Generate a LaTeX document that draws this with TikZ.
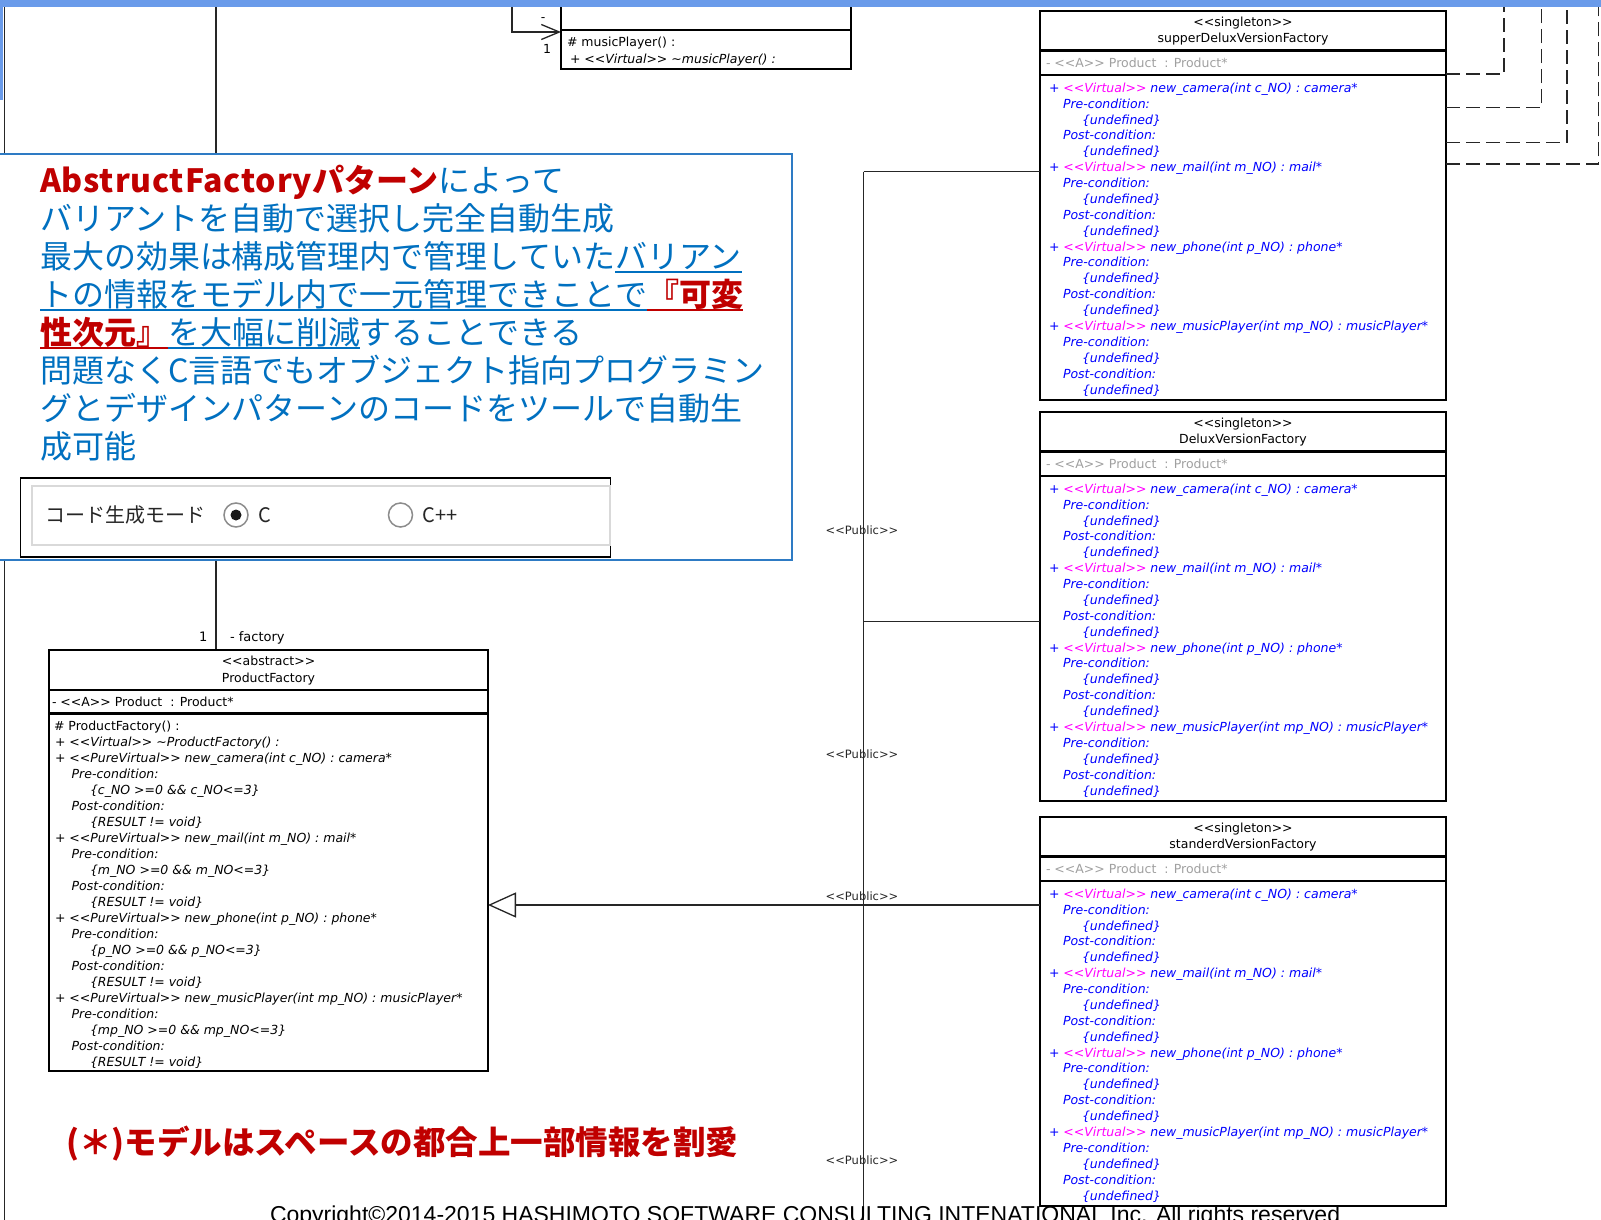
\documentclass[tikz,border=0pt]{standalone}
\usepackage{fontspec}
\usetikzlibrary{arrows.meta,calc}
\newfontfamily\jp{Noto Sans CJK JP}
\newfontfamily\uml{DejaVu Sans}[Ligatures=TeXOff]
\newfontfamily\cpy{Liberation Sans}
\definecolor{jpblue}{HTML}{0070C0}
\definecolor{jpred}{HTML}{C00000}
\definecolor{umlblue}{HTML}{0000FF}
\definecolor{umlmag}{HTML}{FF00FF}
\definecolor{umlgrey}{HTML}{A0A0A0}
\definecolor{tbblue}{HTML}{2E7BC4}
\definecolor{bandblue}{HTML}{6A9BEA}
\newsavebox\ulbox
\newcommand\ulx[1]{\sbox\ulbox{#1}\rlap{\rule[-5pt]{\wd\ulbox}{2pt}}\usebox\ulbox}
\tikzset{
 umlbox/.style={draw=black, line width=2.8pt, fill=white, anchor=north west, inner sep=0pt, outer sep=0pt},
 divider/.style={draw=black, line width=2.2pt},
 conn/.style={draw=black!85, line width=1.3pt},
 dline/.style={conn, dash pattern=on 14pt off 6pt},
 tl/.style={anchor=base west, inner sep=0pt, outer sep=0pt},
 tc/.style={anchor=base, inner sep=0pt, outer sep=0pt},
 uf/.style={font=\uml\fontsize{12.5}{14}\selectfont},
 ufi/.style={font=\uml\itshape\fontsize{12.5}{14}\selectfont},
 opl/.style={tl, ufi, text=umlblue},
 jpl/.style={tl, font=\jp\fontsize{32}{38}\selectfont, text=jpblue},
 radiotext/.style={tl, font=\jp\fontsize{20}{24}\selectfont, text=black!85},
 pubtext/.style={inner sep=0pt, font=\uml\fontsize{11.5}{13}\selectfont, text=black!85},
}
\newcommand\vops[3]{%
 \pgfmathsetmacro\yo{81.3+#2*79.4}%
 \node[opl] (#1-o#2) at ($(#1.north west)+(9,\yo)$) {+ \textcolor{umlmag}{<<Virtual>>} #3};
 \node[opl] (#1-o#2a) at ($(#1.north west)+(23,\yo+15.88)$) {Pre-condition:};
 \node[opl] (#1-o#2b) at ($(#1.north west)+(42,\yo+31.76)$) {\{undefined\}};
 \node[opl] (#1-o#2c) at ($(#1.north west)+(23,\yo+47.64)$) {Post-condition:};
 \node[opl] (#1-o#2d) at ($(#1.north west)+(42,\yo+63.52)$) {\{undefined\}};
}
\newcommand\sgbox[3]{%
 \node[umlbox, minimum width=406pt, minimum height=389pt] (#1) at (1040,#2) {};
 \draw[divider] ($(#1.north west)+(0,39.5)$) -- ($(#1.north east)+(0,39.5)$);
 \draw[divider] ($(#1.north west)+(0,64)$) -- ($(#1.north east)+(0,64)$);
 \node[tc, uf] (#1-st) at ($(#1.north)+(0,15.3)$) {<<singleton>>};
 \node[tc, uf] (#1-nm) at ($(#1.north)+(0,31.3)$) {#3};
 \node[tl, uf, text=umlgrey] (#1-at) at ($(#1.north west)+(6,56.3)$) {- <<A>> Product\ \ : Product*};
 \vops{#1}{0}{new\_camera(int c\_NO) : camera*}
 \vops{#1}{1}{new\_mail(int m\_NO) : mail*}
 \vops{#1}{2}{new\_phone(int p\_NO) : phone*}
 \vops{#1}{3}{new\_musicPlayer(int mp\_NO) : musicPlayer*}
}
\newcommand\pfl[4]{\node[tl,#3] (pf-l#1) at ($(pf.north west)+(#2,80.7+#1*16)$) {#4};}
\begin{document}
\begin{tikzpicture}[x=1pt,y=-1pt]
\useasboundingbox (0,0) rectangle (1601,1220);
\clip (0,0) rectangle (1601,1220);
\fill[white] (0,0) rectangle (1601,1220);

% ---- coordinates for free connector ends
\coordinate (lt) at (4.5,6);
\coordinate (lb) at (4.5,1226);
\coordinate (ftop) at (216,6);
\coordinate (mpsrc) at (512,6);
\coordinate (jt) at (863.5,171.5);
\coordinate (jb) at (863.5,1226);
\coordinate (jd) at (863.5,621.7);
\coordinate (js) at (863.5,905);
\coordinate (dv1) at (1504,6);
\coordinate (dv2) at (1541.5,6);
\coordinate (dv3) at (1567,6);
\coordinate (dv4) at (1598.5,6);

% ---- boxes
\node[umlbox, minimum width=290pt, minimum height=74pt] (mp) at (561,-5) {};
\node[umlbox, minimum width=439pt, minimum height=421pt] (pf) at (49,650) {};
\sgbox{sd}{11}{supperDeluxVersionFactory}
\sgbox{dl}{412}{DeluxVersionFactory}
\sgbox{st}{817}{standerdVersionFactory}

% ---- connectors
\draw[conn] (lt) -- (lb);
\draw[conn] (ftop) -- (ftop |- pf.north);
\draw[conn, -{Straight Barb[length=18pt,width=15pt]}] (mpsrc) |- ($(mp.north west)+(0,37)$);
\draw[conn] (jt) -- (jb);
\draw[conn] (jt) -- (jt -| sd.west);
\draw[conn] (jd) -- (jd -| dl.west);
\draw[conn, -{Triangle[open, length=28pt, width=25pt, fill=white]}] (js -| st.west) -- (js -| pf.east);
\draw[dline] ($(sd.north east)+(0,63)$) -| (dv1);
\draw[dline] ($(sd.north east)+(0,96.7)$) -| (dv2);
\draw[dline] ($(sd.north east)+(0,131.7)$) -| (dv3);
\draw[dline] ($(sd.north east)+(0,153)$) -| (dv4);

% ---- redraw boxes on top of lines
\node[umlbox, minimum width=290pt, minimum height=74pt] (mp2) at (561,-5) {};
\draw[divider] ($(mp2.north west)+(0,35)$) -- ($(mp2.north east)+(0,35)$);
\node[umlbox, minimum width=439pt, minimum height=421pt] (pf2) at (49,650) {};
\draw[divider] ($(pf.north west)+(0,40)$) -- ($(pf.north east)+(0,40)$);
\draw[divider] ($(pf.north west)+(0,63.5)$) -- ($(pf.north east)+(0,63.5)$);

% ---- musicPlayer box texts
\node[tl, uf] (mp-a) at ($(mp.north west)+(6,51.7)$) {\# musicPlayer() :};
\node[tl, ufi] (mp-b) at ($(mp.north west)+(9,69)$) {+ <<Virtual>> \textasciitilde musicPlayer() :};
\node[uf, inner sep=0pt] (mp-m) at (543,20) {-};
\node[uf, inner sep=0pt] (mp-1) at (547,49) {1};

% ---- ProductFactory texts
\node[tc, uf] (pf-st) at ($(pf.north)+(0,15.7)$) {<<abstract>>};
\node[tc, uf] (pf-nm) at ($(pf.north)+(0,32)$) {ProductFactory};
\node[tl, uf] (pf-at) at ($(pf.north west)+(3,56)$) {- <<A>> Product\ \ : Product*};
\pfl{0}{5}{uf}{\# ProductFactory() :}
\pfl{1}{6}{ufi}{+ <<Virtual>> \textasciitilde ProductFactory() :}
\pfl{2}{6}{ufi}{+ <<PureVirtual>> new\_camera(int c\_NO) : camera*}
\pfl{3}{22.7}{ufi}{Pre-condition:}
\pfl{4}{41}{ufi}{\{c\_NO >=0 \&\& c\_NO<=3\}}
\pfl{5}{22.7}{ufi}{Post-condition:}
\pfl{6}{41}{ufi}{\{RESULT != void\}}
\pfl{7}{6}{ufi}{+ <<PureVirtual>> new\_mail(int m\_NO) : mail*}
\pfl{8}{22.7}{ufi}{Pre-condition:}
\pfl{9}{41}{ufi}{\{m\_NO >=0 \&\& m\_NO<=3\}}
\pfl{10}{22.7}{ufi}{Post-condition:}
\pfl{11}{41}{ufi}{\{RESULT != void\}}
\pfl{12}{6}{ufi}{+ <<PureVirtual>> new\_phone(int p\_NO) : phone*}
\pfl{13}{22.7}{ufi}{Pre-condition:}
\pfl{14}{41}{ufi}{\{p\_NO >=0 \&\& p\_NO<=3\}}
\pfl{15}{22.7}{ufi}{Post-condition:}
\pfl{16}{41}{ufi}{\{RESULT != void\}}
\pfl{17}{6}{ufi}{+ <<PureVirtual>> new\_musicPlayer(int mp\_NO) : musicPlayer*}
\pfl{18}{22.7}{ufi}{Pre-condition:}
\pfl{19}{41}{ufi}{\{mp\_NO >=0 \&\& mp\_NO<=3\}}
\pfl{20}{22.7}{ufi}{Post-condition:}
\pfl{21}{41}{ufi}{\{RESULT != void\}}

% ---- association labels
\node[tl, font=\uml\fontsize{13}{15}\selectfont] (fa-1) at (199,641) {1};
\node[tl, font=\uml\fontsize{13}{15}\selectfont] (fa-n) at (230,641) {- factory};

% ---- Public labels
\node[pubtext] (pub1) at (862,530) {<<Public>>};
\node[pubtext] (pub2) at (862,754) {<<Public>>};
\node[pubtext] (pub3) at (862,896.5) {<<Public>>};
\node[pubtext] (pub4) at (862,1160) {<<Public>>};

% ---- text box
\node[draw=tbblue, line width=2pt, fill=white, anchor=north west, minimum width=795pt, minimum height=406pt, inner sep=0pt, outer sep=0pt] (tb) at (-3,154) {};
\node[jpl] (j1) at (40,192) {{\bfseries\color{jpred}{\addfontfeatures{LetterSpace=2.5}AbstructFactory}パターン}によって};
\node[jpl] (j2) at (40,230) {バリアントを自動で選択し完全自動生成};
\node[jpl] (j3) at (40,268) {最大の効果は構成管理内で管理していた\ulx{バリアン}};
\node[jpl] (j4) at (40,306) {\ulx{トの情報をモデル内で一元管理できことで}{\color{jpred}\ulx{\bfseries 『可変}}};
\node[jpl] (j5) at (40,344) {{\color{jpred}\ulx{\bfseries 性次元』}}\ulx{を大幅に削減}することできる};
\node[jpl] (j6) at (40,382) {問題なくC言語でもオブジェクト指向プログラミン};
\node[jpl] (j7) at (40,420) {グとデザインパターンのコードをツールで自動生};
\node[jpl] (j8) at (40,458) {成可能};

% ---- radio box
\node[draw=black, line width=1.8pt, fill=white, anchor=north west, minimum width=590pt, minimum height=79pt, inner sep=0pt, outer sep=0pt] (rb) at (20.5,478) {};
\node[draw=black!15, line width=2pt, anchor=north west, minimum width=578pt, minimum height=59pt, inner sep=0pt, outer sep=0pt] (rbi) at (31.6,486) {};
\node[radiotext] (rbl) at (45,522.6) {コード生成モード};
\node[circle, draw=black!45, line width=1.5pt, fill=white, minimum size=24pt, inner sep=0pt] (r1) at (236,515) {};
\node[circle, fill=black!90, minimum size=11pt, inner sep=0pt] (r1d) at (r1) {};
\node[radiotext] (rc) at (258,522.6) {C};
\node[circle, draw=black!45, line width=1.5pt, fill=white, minimum size=24pt, inner sep=0pt] (r2) at (400.5,515) {};
\node[radiotext] (rcpp) at (422.5,522.6) {C++};

% ---- notes
\node[tl, font=\jp\bfseries\fontsize{32.5}{38}\selectfont, text=jpred] (note) at (66,1154) {(＊)モデルはスペースの都合上一部情報を割愛};
\node[tl, font=\cpy\fontsize{23}{26}\selectfont] (cp) at (270,1222) {Copyright©2014-2015 HASHIMOTO SOFTWARE CONSULTING INTENATIONAL Inc. All rights reserved};

% ---- window band
\fill[bandblue] (0,0) rectangle (1601,7.5);
\fill[bandblue] (0,0) rectangle (3,100);
\end{tikzpicture}
\end{document}
